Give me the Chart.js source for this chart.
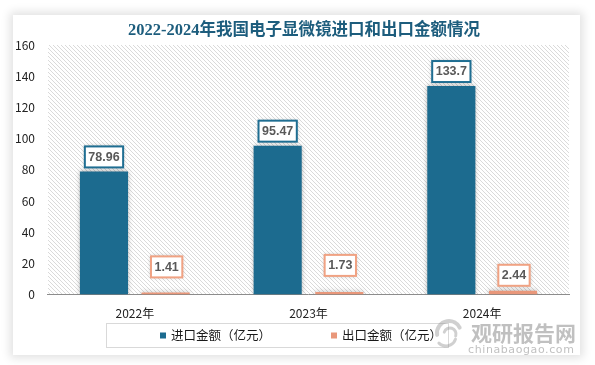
<!DOCTYPE html>
<html><head><meta charset="utf-8">
<script src="https://cdn.jsdelivr.net/npm/chart.js@4.4.0/dist/chart.umd.min.js"></script>
<style>
html,body{margin:0;padding:0;background:#fff;width:595px;height:365px;overflow:hidden}
#card{position:absolute;left:13px;top:15px;width:567px;height:340px;background:#fff;box-shadow:0 0 9px 3px rgba(0,0,0,0.12)}
#c{position:absolute;left:0;top:0}
</style></head><body>
<div id="card"></div>
<canvas id="c" width="595" height="365"></canvas>
<script>
// ---- data ----
const categories = ['2022年', '2023年', '2024年'];
const importValues = [78.96, 95.47, 133.7];
const exportValues = [1.41, 1.73, 2.44];
const seriesNames = ['进口金额（亿元）', '出口金额（亿元）'];
const yTicks = [0, 20, 40, 60, 80, 100, 120, 140, 160];
const titleText = '2022-2024年我国电子显微镜进口和出口金额情况';

// ---- styles ----
const BLUE = '#1c6b8f';
const ORANGE = '#e9977a';
const BLUE_BORDER = '#1f6e92';
const ORANGE_BORDER = '#f0a283';
const CJK = '"Noto Sans CJK SC", "Noto Sans", sans-serif';

function makeHatch() {
  const p = document.createElement('canvas');
  p.width = 4; p.height = 4;
  const g = p.getContext('2d');
  g.fillStyle = '#fff'; g.fillRect(0, 0, 4, 4);
  g.fillStyle = '#dadada';
  for (let i = 0; i < 4; i++) g.fillRect(i, i, 1, 1);
  return p;
}

const decor = {
  id: 'decor',
  beforeDraw(chart) {
    const {ctx, chartArea: a} = chart;
    ctx.save();
    ctx.fillStyle = ctx.createPattern(makeHatch(), 'repeat');
    ctx.fillRect(a.left, a.top, a.right - a.left, a.bottom - a.top);
    // title
    ctx.fillStyle = '#1d5d7d';
    ctx.font = 'bold 16.5px "Liberation Serif", "Noto Sans CJK SC", serif';
    ctx.textAlign = 'center';
    ctx.textBaseline = 'middle';
    ctx.fillText(titleText, 304, 31);
    ctx.restore();
  },
  beforeDatasetsDraw(chart) {
    const ctx = chart.ctx;
    ctx.save();
    ctx.shadowColor = 'rgba(0,0,0,0.35)';
    ctx.shadowBlur = 5;
  },
  afterDatasetsDraw(chart) {
    chart.ctx.restore();
  },
  afterDraw(chart) {
    const {ctx} = chart;
    const lifts = [[4, 4, 4], [15, 16, 5]];
    const borders = [BLUE_BORDER, ORANGE_BORDER];
    ctx.save();
    ctx.font = 'bold 12.5px "Liberation Sans", sans-serif';
    ctx.textAlign = 'center';
    ctx.textBaseline = 'middle';
    chart.data.datasets.forEach((ds, di) => {
      chart.getDatasetMeta(di).data.forEach((bar, i) => {
        const txt = String(ds.data[i]);
        const w = ctx.measureText(txt).width + 7;
        const h = 21;
        const cx = bar.x + (di === 1 ? 1 : 0);
        const bottom = bar.y - lifts[di][i];
        const x = cx - w / 2, y = bottom - h;
        ctx.save();
        ctx.shadowColor = 'rgba(0,0,0,0.25)';
        ctx.shadowBlur = 4;
        ctx.fillStyle = '#fff';
        ctx.fillRect(x, y, w, h);
        ctx.restore();
        ctx.strokeStyle = borders[di];
        ctx.lineWidth = 2;
        ctx.strokeRect(x, y, w, h);
        ctx.fillStyle = '#595959';
        ctx.fillText(txt, cx, y + h / 2 + 0.5);
      });
    });
    ctx.restore();

    // legend
    ctx.save();
    ctx.font = '12.5px ' + CJK;
    ctx.textBaseline = 'middle';
    ctx.textAlign = 'left';
    const sq = 6, gap = 5, itemGap = 60;
    const widths = chart.data.datasets.map(ds => sq + gap + ctx.measureText(ds.label).width);
    const total = widths.reduce((s, v) => s + v, 0) + itemGap * (widths.length - 1);
    let lx = 301 - total / 2;
    const ly = 335.5;
    ctx.strokeStyle = '#d9d9d9';
    ctx.lineWidth = 1;
    ctx.strokeRect(106.5, 323.5, Math.round(lx + total + 6 - 106), 24);
    chart.data.datasets.forEach((ds, di) => {
      ctx.fillStyle = ds.backgroundColor;
      ctx.fillRect(lx, ly - sq / 2, sq, sq);
      ctx.fillStyle = '#1a1a1a';
      ctx.fillText(ds.label, lx + sq + gap, ly);
      lx += widths[di] + itemGap;
    });
    ctx.restore();

    // watermark
    ctx.save();
    ctx.strokeStyle = 'rgba(150,150,150,0.45)';
    ctx.lineCap = 'round';
    ctx.lineWidth = 4;
    ctx.beginPath(); ctx.arc(449, 333, 12, Math.PI * 0.95, Math.PI * 1.85); ctx.stroke();
    ctx.lineWidth = 3;
    ctx.beginPath(); ctx.arc(450, 334, 6, Math.PI * 1.1, Math.PI * 2.1); ctx.stroke();
    ctx.beginPath(); ctx.arc(446, 336, 10, Math.PI * 0.1, Math.PI * 0.75); ctx.stroke();
    ctx.fillStyle = 'rgba(140,140,140,0.55)';
    ctx.font = 'bold 21px "Noto Sans CJK SC", sans-serif';
    ctx.textAlign = 'left';
    ctx.textBaseline = 'middle';
    ctx.fillText('观研报告网', 471, 333);
    ctx.font = '11px "DejaVu Sans", sans-serif';
    try { ctx.letterSpacing = '0.6px'; } catch (e) {}
    ctx.fillText('chinabaogao.com', 468, 350);
    ctx.restore();
  }
};

new Chart(document.getElementById('c'), {
  type: 'bar',
  data: {
    labels: categories,
    datasets: [
      {label: seriesNames[0], data: importValues, backgroundColor: BLUE},
      {label: seriesNames[1], data: exportValues, backgroundColor: ORANGE}
    ]
  },
  options: {
    responsive: false,
    animation: false,
    devicePixelRatio: 1,
    categoryPercentage: 0.71,
    barPercentage: 0.78,
    layout: {padding: {left: 2, right: 26, top: 45, bottom: 32}},
    plugins: {legend: {display: false}, tooltip: {enabled: false}, title: {display: false}},
    scales: {
      x: {
        grid: {display: false, drawTicks: false},
        border: {display: true, color: '#8c8c8c', width: 1},
        ticks: {color: '#222', font: {family: CJK, size: 12}, padding: 12}
      },
      y: {
        min: 0, max: 160,
        afterBuildTicks(scale) { scale.ticks = yTicks.map(v => ({value: v})); },
        grid: {display: false, drawTicks: false},
        border: {display: false},
        ticks: {color: '#222', font: {family: CJK, size: 12}, padding: 13}
      }
    }
  },
  plugins: [decor]
});
</script>
</body></html>
